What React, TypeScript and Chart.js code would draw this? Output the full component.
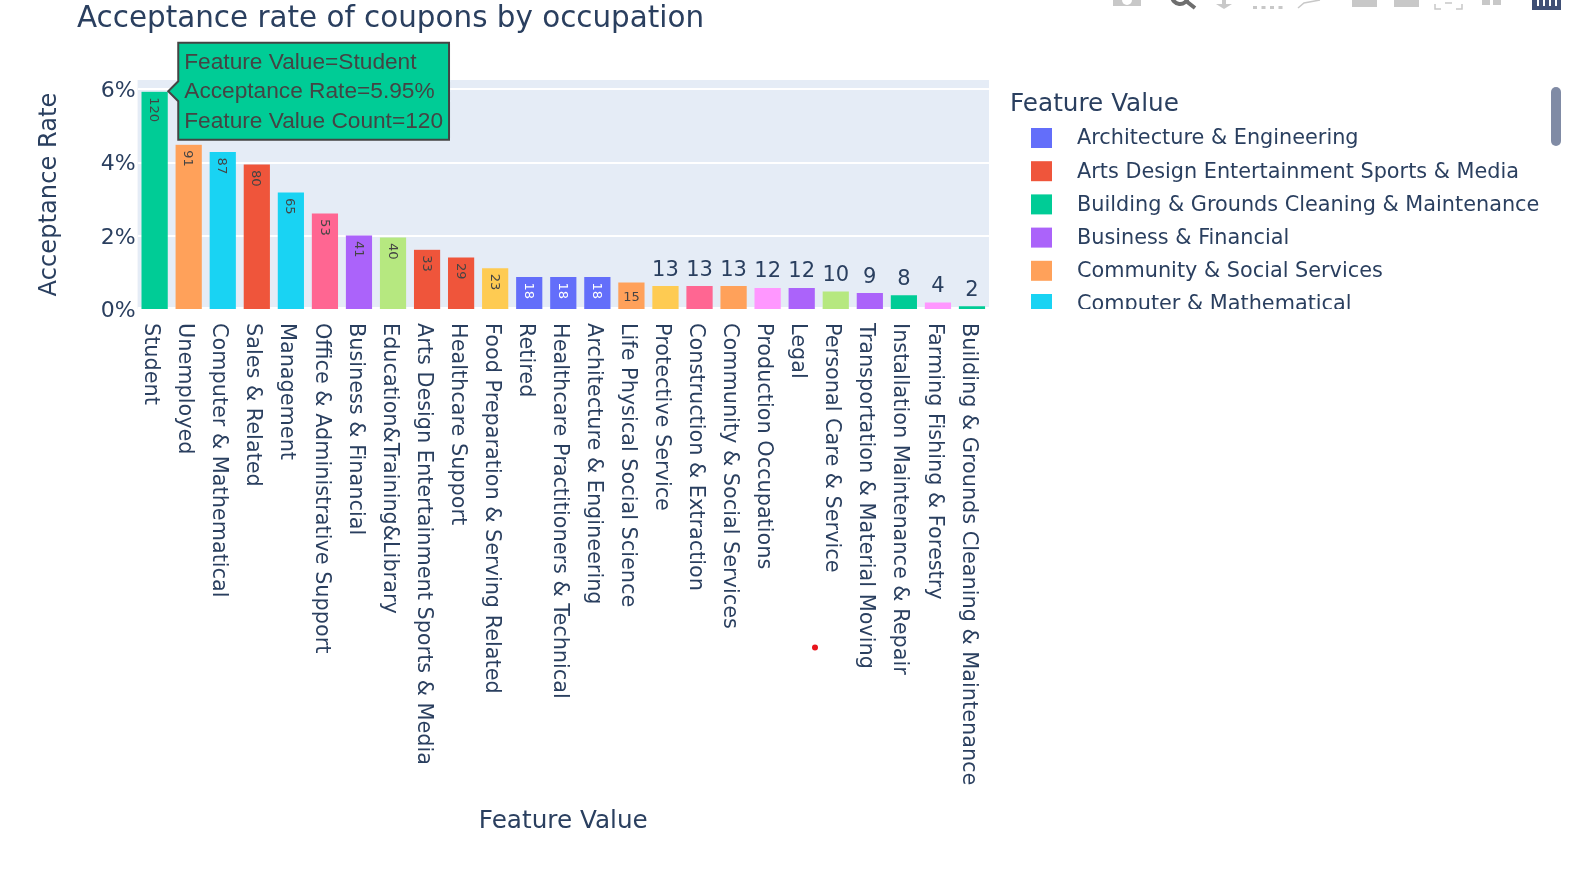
import React, { useEffect, useRef } from "react";
import { Chart, registerables, Tooltip } from "chart.js";

Chart.register(...registerables);

const occupations = ["Student","Unemployed","Computer & Mathematical","Sales & Related","Management","Office & Administrative Support","Business & Financial","Education&Training&Library","Arts Design Entertainment Sports & Media","Healthcare Support","Food Preparation & Serving Related","Retired","Healthcare Practitioners & Technical","Architecture & Engineering","Life Physical Social Science","Protective Service","Construction & Extraction","Community & Social Services","Production Occupations","Legal","Personal Care & Service","Transportation & Material Moving","Installation Maintenance & Repair","Farming Fishing & Forestry","Building & Grounds Cleaning & Maintenance"];
const acceptanceRate = [5.95,4.5,4.3,3.96,3.2,2.62,2.02,1.97,1.63,1.42,1.13,0.89,0.89,0.89,0.74,0.64,0.64,0.64,0.59,0.59,0.49,0.45,0.39,0.19,0.09];
const valueCount = [120,91,87,80,65,53,41,40,33,29,23,18,18,18,15,13,13,13,12,12,10,9,8,4,2];
const barColors = ["#00CC96","#FFA15A","#19D3F3","#EF553B","#19D3F3","#FF6692","#AB63FA","#B6E880","#EF553B","#EF553B","#FECB52","#636EFA","#636EFA","#636EFA","#FFA15A","#FECB52","#FF6692","#FFA15A","#FF97FF","#AB63FA","#B6E880","#AB63FA","#00CC96","#FF97FF","#00CC96"];
const legendNames = ["Architecture & Engineering","Arts Design Entertainment Sports & Media","Building & Grounds Cleaning & Maintenance","Business & Financial","Community & Social Services","Computer & Mathematical"];
const legendColors = ["#636EFA","#EF553B","#00CC96","#AB63FA","#FFA15A","#19D3F3"];
const yTicks = [0, 2, 4, 6];

const FONT = '"DejaVu Sans"';
const INK = "#2a3f5f";

const backgroundPlugin = {
  id: "plotBackground",
  beforeDraw(chart: any) {
    const { ctx, chartArea: a } = chart;
    ctx.save();
    ctx.fillStyle = "#E5ECF6";
    ctx.fillRect(a.left, a.top, a.right - a.left, a.bottom - a.top);
    ctx.restore();
  },
  beforeDatasetsDraw(chart: any) {
    const { ctx, chartArea: a, scales } = chart;
    const y0 = scales.y.getPixelForValue(0);
    ctx.save();
    ctx.fillStyle = "#ffffff";
    ctx.fillRect(a.left, y0 - 2, a.right - a.left, 4);
    ctx.restore();
  },
};

const labelsPlugin = {
  id: "barAndTickLabels",
  afterDatasetsDraw(chart: any) {
    const { ctx, scales } = chart;
    const meta = chart.getDatasetMeta(0);
    ctx.save();
    // category labels, top to bottom
    ctx.font = `20.8px ${FONT}`;
    ctx.fillStyle = INK;
    ctx.textAlign = "left";
    ctx.textBaseline = "middle";
    occupations.forEach((name, i) => {
      ctx.save();
      ctx.translate(scales.x.getPixelForTick(i) - 4, 323);
      ctx.rotate(Math.PI / 2);
      ctx.fillText(name, 0, 0);
      ctx.restore();
    });
    // count labels on bars
    valueCount.forEach((n, i) => {
      const el = meta.data[i];
      const text = String(n);
      if (n > 15) {
        ctx.save();
        ctx.font = `13px ${FONT}`;
        ctx.fillStyle = barColors[i] === "#636EFA" ? "#ffffff" : "#444444";
        ctx.textAlign = "left";
        ctx.textBaseline = "middle";
        ctx.translate(el.x - 1, el.y + 6);
        ctx.rotate(Math.PI / 2);
        ctx.fillText(text, 0, 0);
        ctx.restore();
      } else if (n === 15) {
        ctx.font = `13px ${FONT}`;
        ctx.fillStyle = "#444444";
        ctx.textAlign = "center";
        ctx.textBaseline = "middle";
        ctx.fillText(text, el.x, (el.y + el.base) / 2 + 2);
      } else {
        ctx.font = `21px ${FONT}`;
        ctx.fillStyle = INK;
        ctx.textAlign = "center";
        ctx.textBaseline = "alphabetic";
        ctx.fillText(text, el.x, el.y - 10);
      }
    });
    ctx.restore();
  },
};

const overlayPlugin = {
  id: "legendAndToolbar",
  afterDraw(chart: any) {
    const { ctx } = chart;
    ctx.save();
    // legend
    ctx.fillStyle = INK;
    ctx.textBaseline = "middle";
    ctx.textAlign = "left";
    ctx.font = `24.7px ${FONT}`;
    ctx.fillText("Feature Value", 1010, 105);
    ctx.save();
    ctx.beginPath();
    ctx.rect(1000, 110, 560, 199);
    ctx.clip();
    ctx.font = `20.8px ${FONT}`;
    legendNames.forEach((name, i) => {
      const cy = 138 + i * 33.2;
      ctx.fillStyle = legendColors[i];
      ctx.fillRect(1031, cy - 10, 21, 20);
      ctx.fillStyle = INK;
      ctx.fillText(name, 1077, cy + 1);
    });
    ctx.restore();
    // legend scrollbar
    ctx.fillStyle = "#808BA5";
    ctx.beginPath();
    ctx.roundRect(1551, 87, 10, 59, 5);
    ctx.fill();
    // mode bar, cut off by the top of the picture
    ctx.fillStyle = "#c8c8c8";
    ctx.fillRect(1113, 0, 28, 6);
    ctx.fillRect(1352, 0, 25, 7);
    ctx.fillRect(1394, 0, 25, 7);
    ctx.fillRect(1482, 0, 8, 5);
    ctx.fillRect(1493, 0, 8, 5);
    for (let k = 0; k < 4; k++) ctx.fillRect(1253 + k * 8.5, 6, 4, 3);
    ctx.fillRect(1222, 0, 4, 5);
    ctx.beginPath();
    ctx.moveTo(1216, 4); ctx.lineTo(1232, 4); ctx.lineTo(1224, 9);
    ctx.closePath(); ctx.fill();
    ctx.strokeStyle = "#c8c8c8"; ctx.lineWidth = 1.5;
    ctx.beginPath();
    ctx.moveTo(1298, 8); ctx.lineTo(1304, 3); ctx.lineTo(1320, 0);
    ctx.stroke();
    ctx.beginPath();
    ctx.moveTo(1435, 4); ctx.lineTo(1435, 9); ctx.lineTo(1441, 9);
    ctx.moveTo(1456, 9); ctx.lineTo(1462, 9); ctx.lineTo(1462, 4);
    ctx.moveTo(1445, 3); ctx.lineTo(1452, 3);
    ctx.stroke();
    ctx.fillStyle = "#ffffff";
    ctx.beginPath(); ctx.arc(1127, 0, 5, 0, Math.PI); ctx.fill();
    ctx.strokeStyle = "#6e6e6e"; ctx.lineWidth = 4;
    ctx.beginPath();
    ctx.arc(1180, -4, 8, 0.1, Math.PI);
    ctx.moveTo(1186, 1); ctx.lineTo(1195, 8);
    ctx.stroke();
    ctx.fillStyle = "#3f4f75";
    ctx.fillRect(1532, 0, 29, 10);
    ctx.fillStyle = "#ffffff";
    for (let k = 0; k < 4; k++) ctx.fillRect(1537 + k * 6, 0, 2, 6);
    // cursor dot
    ctx.fillStyle = "#e8141c";
    ctx.beginPath(); ctx.arc(815, 647.5, 3, 0, Math.PI * 2); ctx.fill();
    ctx.restore();
  },
};

(Tooltip as any).positioners.barCorner = function (items: any[]) {
  if (!items.length) return false;
  const el = items[0].element;
  return { x: el.x + el.width / 2, y: el.y };
};

export default function App() {
  const ref = useRef<HTMLCanvasElement>(null);
  useEffect(() => {
    const lineH = 30;
    const chart = new Chart(ref.current!, {
      type: "bar",
      data: {
        labels: occupations,
        datasets: [{
          data: acceptanceRate,
          backgroundColor: barColors,
          hoverBackgroundColor: barColors,
          borderColor: "rgba(229,236,246,0.6)",
          borderWidth: 0.5,
          barPercentage: 0.8,
          categoryPercentage: 1,
        }],
      },
      options: {
        responsive: false,
        animation: false,
        events: [],
        layout: { padding: { left: 77, right: 605, top: 0, bottom: 39 } },
        scales: {
          x: {
            type: "category",
            offset: true,
            grid: { display: false },
            border: { display: false },
            ticks: { display: false },
            title: {
              display: true,
              text: "Feature Value",
              color: INK,
              font: { family: FONT, size: 24.7, lineHeight: lineH + "px" },
              padding: 0,
            },
            afterFit(s: any) { s.height = 528; },
          },
          y: {
            min: 0,
            max: 6.257,
            grid: {
              color: "#ffffff",
              lineWidth: (c: any) => (c.tick && c.tick.value === 0 ? 0 : 2),
              drawTicks: false,
            },
            border: { display: false },
            ticks: {
              stepSize: 2,
              includeBounds: false,
              padding: 2,
              labelOffset: 2,
              color: INK,
              font: { family: FONT, size: 22 },
              callback: (v: any) => (yTicks.includes(v) ? `${v}%` : ""),
            },
            title: {
              display: true,
              text: "Acceptance Rate",
              color: INK,
              font: { family: FONT, size: 24.2, lineHeight: lineH + "px" },
              padding: { top: -27 - lineH / 2, bottom: 0 },
            },
            afterFit(s: any) { s.width = 60.6; },
          },
        },
        plugins: {
          legend: { display: false },
          title: {
            display: true,
            align: "start",
            text: "Acceptance rate of coupons by occupation",
            color: INK,
            font: { family: FONT, size: 29.4, weight: "normal", lineHeight: "36px" },
            padding: { top: 1, bottom: 43 },
          },
          tooltip: {
            enabled: true,
            position: "barCorner",
            xAlign: "left",
            yAlign: "center",
            caretSize: 10,
            caretPadding: 0,
            cornerRadius: 0,
            displayColors: false,
            backgroundColor: "#00CC96",
            borderColor: "#444444",
            borderWidth: 2,
            bodyColor: "#444444",
            bodyFont: { family: '"Liberation Sans"', size: 22.7 },
            bodySpacing: 2.3,
            padding: { left: 6, right: 6, top: 6.4, bottom: 4.4 },
            callbacks: {
              title: () => "",
              label: (c: any) => [
                `Feature Value=${occupations[c.dataIndex]}`,
                `Acceptance Rate=${acceptanceRate[c.dataIndex].toFixed(2)}%`,
                `Feature Value Count=${valueCount[c.dataIndex]}`,
              ],
            },
          },
        },
      } as any,
      plugins: [backgroundPlugin, labelsPlugin, overlayPlugin],
    });
    chart.tooltip!.setActiveElements([{ datasetIndex: 0, index: 0 }], { x: 150, y: 92 });
    chart.update();
    return () => chart.destroy();
  }, []);
  return (
    <canvas
      ref={ref}
      width={1594}
      height={876}
      style={{ position: "fixed", left: 0, top: 0, display: "block" }}
    />
  );
}
